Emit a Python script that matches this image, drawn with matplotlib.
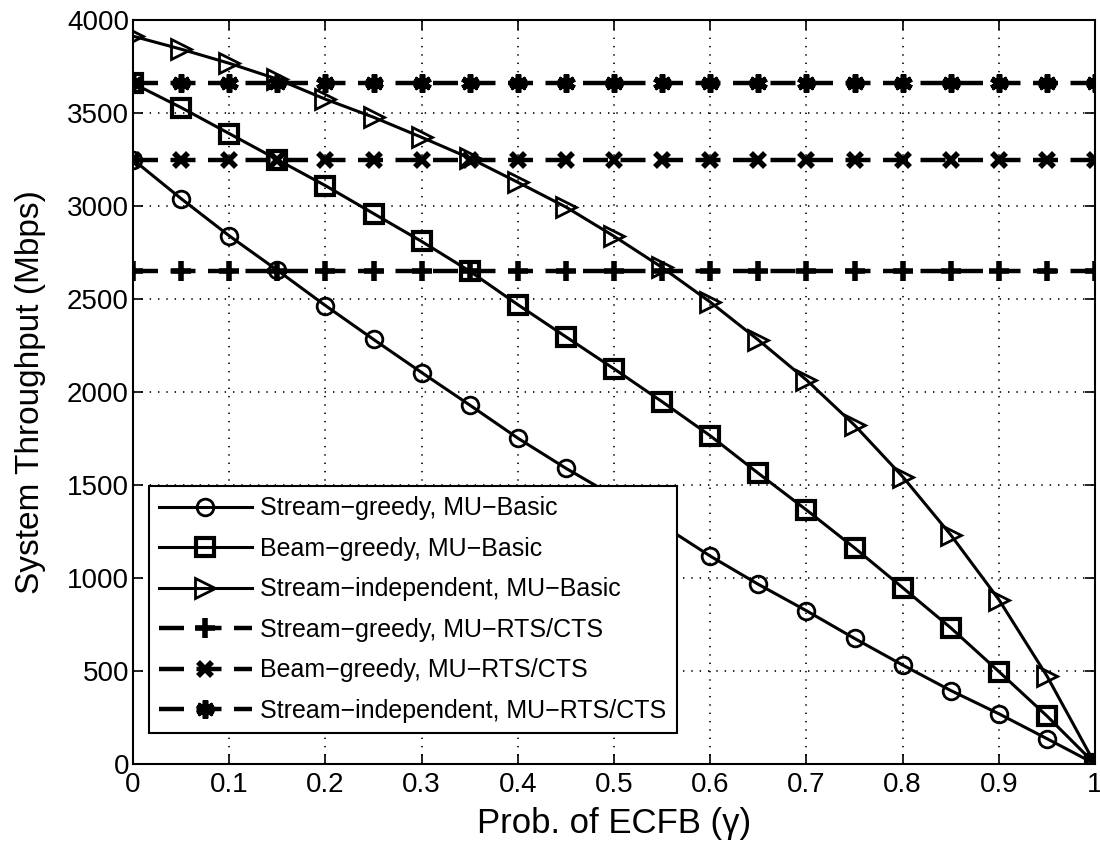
import numpy as np
import matplotlib
matplotlib.use('Agg')
import matplotlib.pyplot as plt

plt.rcParams['font.family'] = ['Liberation Sans', 'DejaVu Sans']
plt.rcParams['lines.scale_dashes'] = False

gamma = [0.0, 0.05, 0.1, 0.15, 0.2, 0.25, 0.3, 0.35, 0.4, 0.45, 0.5,
         0.55, 0.6, 0.65, 0.7, 0.75, 0.8, 0.85, 0.9, 0.95, 1.0]

stream_greedy_basic = [3250, 3040, 2840, 2655, 2465, 2283, 2105, 1930, 1752, 1590, 1440,
                       1285, 1118, 966, 824, 675, 532, 395, 270, 136, 0]
beam_greedy_basic = [3660, 3530, 3390, 3250, 3110, 2960, 2810, 2650, 2470, 2297, 2125,
                     1948, 1765, 1563, 1366, 1162, 948, 732, 497, 258, 0]
stream_indep_basic = [3914, 3844, 3768, 3683, 3575, 3478, 3370, 3258, 3128, 2995, 2838,
                      2670, 2484, 2280, 2065, 1822, 1545, 1232, 884, 473, 0]

stream_greedy_rts = 2650
beam_greedy_rts = 3250
stream_indep_rts = 3660

labels = ['Stream\u2212greedy, MU\u2212Basic',
          'Beam\u2212greedy, MU\u2212Basic',
          'Stream\u2212independent, MU\u2212Basic',
          'Stream\u2212greedy, MU\u2212RTS/CTS',
          'Beam\u2212greedy, MU\u2212RTS/CTS',
          'Stream\u2212independent, MU\u2212RTS/CTS']

fig = plt.figure(figsize=(11, 8.41), dpi=100)
ax = fig.add_axes([0.121, 0.0916, 0.8745, 0.8844])

dash = (0, (18, 9))
ax.plot(gamma, stream_greedy_basic, color='black', lw=2.2, marker='o', ms=12,
        mfc='none', mew=2.0, label=labels[0])
ax.plot(gamma, beam_greedy_basic, color='black', lw=2.2, marker='s', ms=13,
        mfc='none', mew=3.0, label=labels[1])
ax.plot(gamma, stream_indep_basic, color='black', lw=2.2, marker='>', ms=14,
        mfc='none', mew=2.0, label=labels[2])
ax.plot(gamma, [stream_greedy_rts] * len(gamma), color='black', lw=3.2, ls=dash,
        marker='+', ms=14, mew=4.0, label=labels[3])
ax.plot(gamma, [beam_greedy_rts] * len(gamma), color='black', lw=3.2, ls=dash,
        marker='x', ms=10, mew=4.0, label=labels[4])
ax.plot(gamma, [stream_indep_rts] * len(gamma), color='black', lw=3.2, ls=dash,
        marker=(6, 2, 0), ms=13, mew=4.0, label=labels[5])

ax.set_xlim(0, 1)
ax.set_ylim(0, 4000)
ax.set_xticks(np.arange(0, 1.01, 0.1))
ax.set_xticklabels(['0', '0.1', '0.2', '0.3', '0.4', '0.5', '0.6', '0.7', '0.8', '0.9', '1'])
ax.set_yticks(np.arange(0, 4001, 500))
ax.tick_params(direction='in', top=True, right=True, length=7, width=1.2,
               labelsize=20)
ax.tick_params(axis='x', pad=6)
ax.tick_params(axis='y', pad=3)
ax.grid(True, color='black', ls=(0, (1, 5)), lw=1.2)
for s in ax.spines.values():
    s.set_linewidth(1.5)

ax.set_xlabel('Prob. of ECFB (\u03b3)', fontsize=25, labelpad=6)
ax.set_ylabel('System Throughput (Mbps)', fontsize=24, labelpad=15)

leg = ax.legend(loc='lower left', bbox_to_anchor=(0.0166, 0.0417), borderaxespad=0,
                fontsize=18, frameon=True, fancybox=False, edgecolor='black',
                framealpha=1, handlelength=3.7, labelspacing=0.66, borderpad=0.4,
                handletextpad=0.35)
leg.get_frame().set_linewidth(1.5)

fig.savefig('out.png', dpi=100)
